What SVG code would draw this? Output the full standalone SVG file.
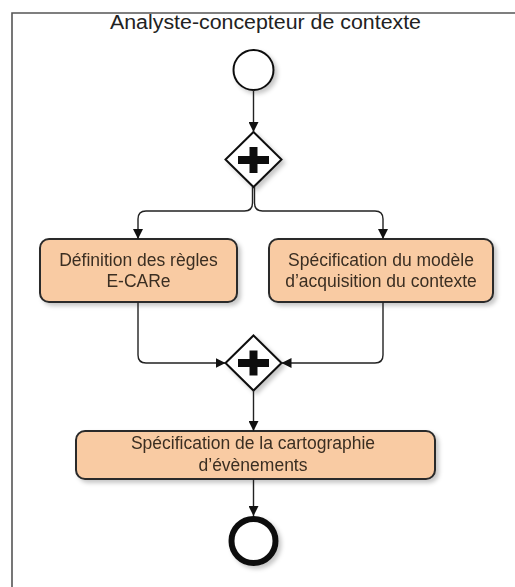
<svg xmlns="http://www.w3.org/2000/svg" width="515" height="587" viewBox="0 0 515 587">
<style>
.frame{stroke:#555;stroke-width:1.6;fill:none}
.title{font-family:"Liberation Sans",Arial,sans-serif;font-size:20px;fill:#222;text-anchor:middle}
.task rect{fill:#F9CBA3;stroke:#2b2b2b;stroke-width:2}
.task text{font-family:"Liberation Sans",Arial,sans-serif;font-size:17.5px;fill:#3a2e22;text-anchor:middle}
.gw path.d{fill:#fff;stroke:#111;stroke-width:2}
.gw path.p{fill:#111}
.conn path{fill:none;stroke:#222;stroke-width:1.4}
</style>
<defs>
<marker id="arr" viewBox="0 0 10 10" refX="10" refY="5" markerWidth="10" markerHeight="10" markerUnits="userSpaceOnUse" orient="auto">
<path d="M0,0 L10,5 L0,10 z" fill="#111"/>
</marker>
<filter id="sh" x="-20%" y="-20%" width="150%" height="150%">
<feDropShadow dx="3" dy="3" stdDeviation="2" flood-color="#000" flood-opacity="0.22"/>
</filter>
</defs>
<rect width="515" height="587" fill="#fff"/>
<path class="frame" d="M12,587 V13 H515"/>
<text class="title" x="265.5" y="28.5" textLength="311" lengthAdjust="spacingAndGlyphs">Analyste-concepteur de contexte</text>

<g id="start" filter="url(#sh)">
<circle cx="253.5" cy="70" r="20" fill="#fff" stroke="#111" stroke-width="2"/>
</g>

<g id="fork" class="gw" filter="url(#sh)">
<path class="d" d="M253.5,132 L281.5,159.5 L253.5,187 L225.5,159.5 Z"/>
<path class="p" d="M249.5,147 H257.5 V156 H269 V164 H257.5 V173 H249.5 V164 H238 V156 H249.5 Z"/>
</g>

<g id="task1" class="task" filter="url(#sh)">
<rect x="40" y="239" width="197" height="63" rx="9"/>
<text x="138.5" y="266">Définition des règles</text>
<text x="138.5" y="287">E-CARe</text>
</g>

<g id="task2" class="task" filter="url(#sh)">
<rect x="269" y="239" width="224" height="63" rx="9"/>
<text x="381" y="266">Spécification du modèle</text>
<text x="381" y="287">d’acquisition du contexte</text>
</g>

<g id="join" class="gw" filter="url(#sh)">
<path class="d" d="M253.5,335.5 L281.5,363 L253.5,390.5 L225.5,363 Z"/>
<path class="p" d="M249.5,350.5 H257.5 V359 H269 V367 H257.5 V375.5 H249.5 V367 H238 V359 H249.5 Z"/>
</g>

<g id="task3" class="task" filter="url(#sh)">
<rect x="76" y="431" width="359" height="48" rx="9"/>
<text x="253" y="449">Spécification de la cartographie</text>
<text x="253" y="471">d’évènements</text>
</g>

<g id="end" filter="url(#sh)">
<circle cx="253.5" cy="541" r="22" fill="#fff" stroke="#111" stroke-width="6"/>
</g>

<g id="connectors" class="conn">
<path d="M253.5,90 V132" marker-end="url(#arr)"/>
<path d="M252.5,187 V203 Q252.5,211 244.5,211 H146 Q138,211 138,219 V239" marker-end="url(#arr)"/>
<path d="M254.5,187 V203 Q254.5,211 262.5,211 H375 Q383,211 383,219 V239" marker-end="url(#arr)"/>
<path d="M138,302 V355 Q138,363 146,363 H225.5" marker-end="url(#arr)"/>
<path d="M383,302 V355 Q383,363 375,363 H281.5" marker-end="url(#arr)"/>
<path d="M253.5,390.5 V431" marker-end="url(#arr)"/>
<path d="M253.5,479 V516" marker-end="url(#arr)"/>
</g>
</svg>
